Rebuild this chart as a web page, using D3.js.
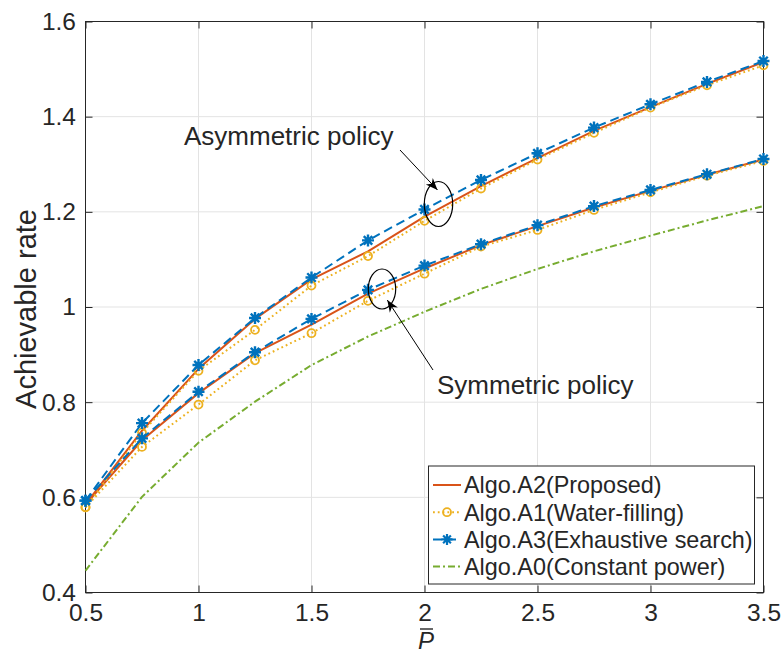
<!DOCTYPE html>
<html>
<head>
<meta charset="utf-8">
<script src="https://cdn.jsdelivr.net/npm/d3@7"></script>
<style>
  html, body { margin: 0; padding: 0; background: #fff; }
  svg { display: block; }
  text { font-family: "Liberation Sans", Arial, sans-serif; fill: #262626; }
</style>
</head>
<body>
<svg id="chart" width="781" height="656"></svg>
<script>
// ---- data ----
const xValues = [0.5, 0.75, 1, 1.25, 1.5, 1.75, 2, 2.25, 2.5, 2.75, 3, 3.25, 3.5];

const asymA2 = [0.585, 0.740, 0.870, 0.975, 1.058, 1.117, 1.190, 1.254, 1.313, 1.370, 1.420, 1.469, 1.515];
const asymA1 = [0.579, 0.736, 0.866, 0.952, 1.045, 1.107, 1.181, 1.249, 1.310, 1.366, 1.419, 1.466, 1.508];
const asymA3 = [0.593, 0.756, 0.878, 0.977, 1.062, 1.140, 1.205, 1.267, 1.323, 1.377, 1.426, 1.473, 1.517];

const symA2 = [0.585, 0.720, 0.819, 0.903, 0.963, 1.028, 1.081, 1.130, 1.170, 1.209, 1.244, 1.278, 1.310];
const symA1 = [0.579, 0.706, 0.795, 0.888, 0.945, 1.013, 1.070, 1.127, 1.162, 1.204, 1.241, 1.276, 1.307];
const symA3 = [0.593, 0.724, 0.822, 0.905, 0.975, 1.036, 1.087, 1.132, 1.172, 1.212, 1.246, 1.279, 1.311];

const constA0 = [0.446, 0.601, 0.715, 0.801, 0.878, 0.938, 0.990, 1.038, 1.080, 1.117, 1.150, 1.182, 1.212];

const xTicks = [0.5, 1, 1.5, 2, 2.5, 3, 3.5];
const yTicks = [0.4, 0.6, 0.8, 1.0, 1.2, 1.4, 1.6];

const legendLabels = ["Algo.A2(Proposed)", "Algo.A1(Water-filling)", "Algo.A3(Exhaustive search)", "Algo.A0(Constant power)"];
const annotations = ["Asymmetric policy", "Symmetric policy"];

// ---- layout ----
const svg = d3.select("#chart");
const L = 85.5, R = 763.5, T = 21.5, B = 592.5;
const x = d3.scaleLinear().domain([0.5, 3.5]).range([L, R]);
const y = d3.scaleLinear().domain([0.4, 1.6]).range([B, T]);

const C = { A2: "#D95319", A1: "#EDB120", A3: "#0072BD", A0: "#77AC30" };

// grid
const g = svg.append("g");
g.selectAll(".vg").data(xTicks).join("line")
  .attr("x1", d => x(d)).attr("x2", d => x(d)).attr("y1", T).attr("y2", B)
  .attr("stroke", "#e3e3e3").attr("stroke-width", 1);
g.selectAll(".hg").data(yTicks).join("line")
  .attr("x1", L).attr("x2", R).attr("y1", d => y(d)).attr("y2", d => y(d))
  .attr("stroke", "#e3e3e3").attr("stroke-width", 1);

// axes
const tickLen = 7;
const xAxis = d3.axisBottom(x).tickValues(xTicks).tickSize(-tickLen).tickPadding(11)
  .tickFormat(d => d3.format("")(d));
const yAxis = d3.axisLeft(y).tickValues(yTicks).tickSize(-tickLen).tickPadding(9.5)
  .tickFormat(d => d === 1 ? "1" : d3.format(".1f")(d));
const xAxisTop = d3.axisTop(x).tickValues(xTicks).tickSize(-tickLen).tickFormat("");
const yAxisRight = d3.axisRight(y).tickValues(yTicks).tickSize(-tickLen).tickFormat("");

function styleAxis(sel) {
  sel.select(".domain").remove();
  sel.selectAll("line").attr("stroke", "#262626").attr("stroke-width", 1);
  sel.selectAll("text").attr("font-size", 24.5).attr("fill", "#262626")
    .attr("font-family", "Liberation Sans, Arial, sans-serif");
}
svg.append("g").attr("transform", `translate(0,${B})`).call(xAxis).call(styleAxis);
svg.append("g").attr("transform", `translate(${L},0)`).call(yAxis).call(styleAxis);
svg.append("g").attr("transform", `translate(0,${T})`).call(xAxisTop).call(styleAxis);
svg.append("g").attr("transform", `translate(${R},0)`).call(yAxisRight).call(styleAxis);

svg.append("rect").attr("x", L).attr("y", T).attr("width", R - L).attr("height", B - T)
  .attr("fill", "none").attr("stroke", "#262626").attr("stroke-width", 1);

// series
const line = d3.line().x((d, i) => x(xValues[i])).y(d => y(d));
const plot = svg.append("g");

function drawLine(data, color, dash, w) {
  plot.append("path").datum(data).attr("d", line)
    .attr("fill", "none").attr("stroke", color).attr("stroke-width", w)
    .attr("stroke-dasharray", dash).attr("stroke-linejoin", "round");
}
function drawCircles(data, color) {
  plot.append("g").selectAll("circle").data(data).join("circle")
    .attr("cx", (d, i) => x(xValues[i])).attr("cy", d => y(d)).attr("r", 4)
    .attr("fill", "none").attr("stroke", color).attr("stroke-width", 1.8);
}
function starPath(cx, cy, s) {
  const a = s, b = s * 0.7071;
  return `M${cx - a},${cy}L${cx + a},${cy}M${cx},${cy - a}L${cx},${cy + a}` +
         `M${cx - b},${cy - b}L${cx + b},${cy + b}M${cx - b},${cy + b}L${cx + b},${cy - b}`;
}
function drawStars(data, color) {
  plot.append("g").selectAll("path").data(data).join("path")
    .attr("d", (d, i) => starPath(x(xValues[i]), y(d), 6))
    .attr("fill", "none").attr("stroke", color).attr("stroke-width", 2.4);
}

[asymA2, symA2].forEach(s => drawLine(s, C.A2, null, 2));
[asymA1, symA1].forEach(s => { drawLine(s, C.A1, "1.8,3", 2); drawCircles(s, C.A1); });
[asymA3, symA3].forEach(s => { drawLine(s, C.A3, "9,5", 2); drawStars(s, C.A3); });
drawLine(constA0, C.A0, "7,3,2,3", 2);

// annotations
const ann = svg.append("g");
svg.append("defs").append("marker").attr("id", "arr").attr("viewBox", "0 0 10 10")
  .attr("refX", 10).attr("refY", 5).attr("markerWidth", 12).attr("markerHeight", 12)
  .attr("markerUnits", "userSpaceOnUse").attr("orient", "auto")
  .append("path").attr("d", "M0,1 L10,5 L0,9 L3,5 Z").attr("fill", "#000");

ann.append("ellipse").attr("cx", 438.5).attr("cy", 204).attr("rx", 14.2).attr("ry", 22.5)
  .attr("fill", "none").attr("stroke", "#000").attr("stroke-width", 1.2);
ann.append("ellipse").attr("cx", 382).attr("cy", 289).attr("rx", 13.7).attr("ry", 20)
  .attr("fill", "none").attr("stroke", "#000").attr("stroke-width", 1.2);
ann.append("line").attr("x1", 400).attr("y1", 150).attr("x2", 437.5).attr("y2", 190)
  .attr("stroke", "#000").attr("stroke-width", 1).attr("marker-end", "url(#arr)");
ann.append("line").attr("x1", 433).attr("y1", 370).attr("x2", 387.3).attr("y2", 300)
  .attr("stroke", "#000").attr("stroke-width", 1).attr("marker-end", "url(#arr)");
ann.append("text").attr("x", 184).attr("y", 145).attr("font-size", 26).attr("fill", "#000")
  .text(annotations[0]);
ann.append("text").attr("x", 437).attr("y", 394).attr("font-size", 26).attr("fill", "#000")
  .text(annotations[1]);

// axis labels
svg.append("text").attr("transform", "translate(36,309) rotate(-90)")
  .attr("text-anchor", "middle").attr("font-size", 29).text("Achievable rate");
svg.append("text").attr("x", 426).attr("y", 649).attr("text-anchor", "middle")
  .attr("font-family", "Liberation Serif, serif").attr("font-style", "italic")
  .attr("font-size", 24).text("P");
svg.append("line").attr("x1", 420).attr("x2", 433).attr("y1", 629).attr("y2", 629)
  .attr("stroke", "#262626").attr("stroke-width", 1.4);

// legend
const lg = svg.append("g");
const LX = 428.5, LY = 466, LW = 326, LH = 118;
lg.append("rect").attr("x", LX).attr("y", LY).attr("width", LW).attr("height", LH)
  .attr("fill", "#fff").attr("stroke", "#262626").attr("stroke-width", 1);
const legendStyles = [
  { c: C.A2, dash: null, m: null },
  { c: C.A1, dash: "1.8,3", m: "circle" },
  { c: C.A3, dash: "9,5", m: "star" },
  { c: C.A0, dash: "7,3,2,3", m: null }
];
legendLabels.forEach((lab, i) => {
  const cy = 485 + i * 27.2;
  const st = legendStyles[i];
  lg.append("line").attr("x1", 433).attr("x2", 461).attr("y1", cy).attr("y2", cy)
    .attr("stroke", st.c).attr("stroke-width", 2).attr("stroke-dasharray", st.dash);
  if (st.m === "circle") lg.append("circle").attr("cx", 447).attr("cy", cy).attr("r", 4)
    .attr("fill", "none").attr("stroke", st.c).attr("stroke-width", 1.8);
  if (st.m === "star") lg.append("path").attr("d", starPath(447, cy, 5.5))
    .attr("stroke", st.c).attr("stroke-width", 2.2).attr("fill", "none");
  lg.append("text").attr("x", 464).attr("y", cy).attr("dy", "0.36em")
    .attr("font-size", 23.4).attr("fill", "#000").text(lab);
});
</script>
</body>
</html>
